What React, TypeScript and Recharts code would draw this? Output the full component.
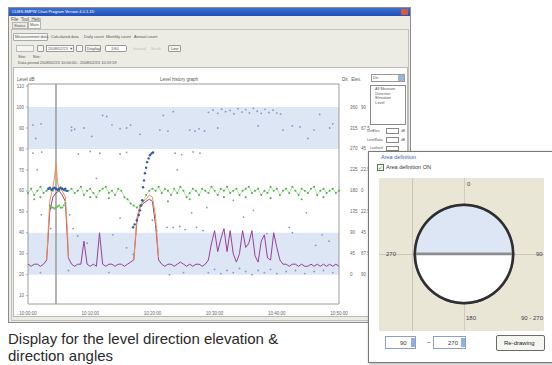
import React from 'react';
import {
  ComposedChart,
  Line,
  Scatter,
  XAxis,
  YAxis,
  ReferenceArea,
  ReferenceLine,
  PieChart,
  Pie,
  Cell,
} from 'recharts';

// time axis (0..100 = one hour)
const xTicks = [0, 20, 40, 60, 80, 100];
const xTickLabels = ['10:00:00', '10:10:00', '10:20:00', '10:30:00', '10:40:00', '10:50:00'];

// left axis: level dB
const levelTicks = [10, 20, 30, 40, 50, 60, 70, 80, 90, 100, 110];

// right axis: direction / elevation columns
const rightTicks = [100, 90, 80, 70, 60, 50, 40, 30, 20];
const dirLabels = ['360', '315', '270', '225', '180', '135', '90', '45', '0'];
const elevLabels = ['90', '67.5', '45', '22.5', '0', '22.5', '45', '67.5', '90'];

// shaded area bands (level units)
const bandRanges = [
  [80, 100],
  [20, 40],
];

// level trace, one value per time step
const levelValues = [
  25, 24, 25, 25, 24, 25, 27, 50, 57, 59, 60, 58, 55, 28, 25, 24, 25, 25, 36, 25,
  24, 25, 24, 40, 25, 24, 25, 25, 24, 25, 25, 24, 25, 26, 27, 45, 52, 54, 55, 56,
  55, 44, 27, 25, 24, 25, 25, 24, 25, 26, 25, 24, 25, 24, 25, 25, 24, 25, 27, 35,
  41, 31, 37, 42, 31, 41, 30, 26, 30, 41, 33, 35, 41, 29, 26, 36, 39, 28, 27, 40,
  33, 27, 25, 25, 24, 25, 25, 24, 25, 24, 24, 25, 24, 25, 24, 25, 24, 25, 24, 25,
  24,
];

// peak level (orange) during the two bursts
const peakPoints = [
  [6, 27], [7, 55], [8, 62], [8.5, 66], [9, 73], [9.5, 64], [10, 61], [11, 60], [12, 57], [12.7, 40], [13, 28],
  [13.5, null],
  [34, 27], [35, 47], [36, 53], [37, 55], [38, 56], [39, 58], [40, 57], [41, 48], [42, 28],
];

// elevation trace (green)
const greenTrace = [
  [0, 59], [1, 61], [2, 58], [3, 60], [4, 62], [5, 59], [6, 60], [7, 61], [8, 60], [9, 61], [10, 60],
  [11, 61], [12, 60], [13, 60], [14, 61], [15, 59], [16, 60], [17, 62], [18, 58], [19, 60], [20, 61],
  [21, 59], [22, 57], [23, 60], [24, 61], [25, 62], [26, 59], [27, 60], [28, 58], [29, 61], [30, 60],
  [31, 57], [32, 56], [33, 54], [34, 53], [35, 52], [36, 53], [37, 55], [38, 58], [39, 60], [40, 61],
  [41, 60], [42, 62], [43, 59], [44, 61], [45, 60], [46, 58], [47, 61], [48, 59], [49, 62], [50, 60],
  [51, 57], [52, 59], [53, 61], [54, 60], [55, 58], [56, 61], [57, 60], [58, 59], [59, 62], [60, 60],
  [61, 58], [62, 61], [63, 60], [64, 62], [65, 59], [66, 60], [67, 61], [68, 58], [69, 60], [70, 61],
  [71, 62], [72, 59], [73, 60], [74, 61], [75, 58], [76, 60], [77, 59], [78, 62], [79, 60], [80, 61],
  [81, 58], [82, 60], [83, 61], [84, 59], [85, 62], [86, 60], [87, 58], [88, 61], [89, 60], [90, 59],
  [91, 61], [92, 62], [93, 58], [94, 60], [95, 61], [96, 59], [97, 60], [98, 61], [99, 59], [100, 60],
];

// green outliers and the lower cluster under the first burst
const greenExtra = [
  [7, 53], [7.5, 52], [8, 52], [8.5, 51.5], [9, 52], [9.5, 52.5], [10, 53], [10.5, 52], [11, 52], [11.5, 53], [12, 54],
  [2, 56], [4, 57], [20, 57], [26, 56.5], [45, 55], [52, 56], [63, 57], [70, 57], [78, 56.5], [88, 56], [95, 57],
];

// direction points (dark blue)
const bluePoints = [
  [6.5, 61], [7, 61.5], [7.5, 60.5], [8, 61], [8.5, 61.5], [9, 61], [9.5, 60.5], [10, 61], [10.5, 61.5],
  [11, 61], [11.5, 60.5], [12, 61], [12.5, 60],
  [33.8, 42.6], [34.3, 44], [35, 46], [35.6, 48.5], [36, 50.7], [36.4, 53], [36.7, 55.5], [37, 61.7],
  [37.3, 65], [37.6, 68.4], [38, 71], [38.3, 73.7], [38.8, 75.5], [39.2, 77], [39.7, 77.8], [40.2, 78.3],
];

// scattered raw samples (grey blue)
const rawPoints = [
  [1.6, 91.4], [4.2, 92], [14, 90.4], [14, 88.8], [15, 89.4], [18, 90], [24, 96], [25.3, 95.5], [27, 91.5],
  [29.6, 89.7], [31.7, 90], [33, 91.4], [42.4, 89], [43.5, 96], [45, 88.5], [46.7, 97.8], [52, 89], [53.7, 88.5],
  [55, 89.6], [56.8, 88.6], [58, 97.5], [59.5, 98.6], [61, 97], [62.3, 99], [63.5, 97.8], [65, 98.4], [66.2, 96.8],
  [67.5, 99.2], [68.8, 97.6], [70, 98.8], [71.2, 97.2], [72.5, 99.4], [73.7, 98], [75, 97], [76.2, 98.9],
  [77.5, 97.4], [78.8, 98.5], [80, 97.1], [81.2, 96.6], [82, 89], [85, 91], [87.5, 90.5], [92, 89], [93.8, 96.5],
  [97, 90], [98, 92], [2.5, 85], [20.5, 86], [36, 87], [61, 90], [74, 91], [90, 85],
  [1.6, 78], [4.4, 78.5], [16.2, 77.5], [20, 78.8], [23.1, 78], [29.6, 77.6], [31.7, 78.4], [47.3, 78],
  [49.4, 77.3], [53.1, 78.6], [55.3, 78],
  [4.3, 48.6], [7.3, 42], [13.4, 48.6], [14.5, 42], [16, 38.5], [19, 35], [23, 36.7], [27.3, 39], [29.6, 47],
  [31.7, 32.8], [33.8, 29.7], [40, 46], [41.4, 41], [44.7, 42.6], [46.7, 42.6], [48.8, 43], [50.5, 41.5],
  [52.6, 49.5], [54.2, 42.6], [56.3, 41], [57.5, 52], [66, 55.5], [69.3, 47.5], [72.5, 50.7], [76.8, 39.6],
  [84, 42.6], [85, 40], [89.5, 49.5], [92.5, 34], [94.6, 39], [96.8, 36], [3, 70], [22, 66], [48, 70],
  [58, 21], [60, 22.5], [62, 20.5], [64, 22], [66, 21], [68, 23], [70, 21.5], [72, 20], [74, 22], [76, 21],
  [78, 22.5], [80, 20.5], [83, 21.5], [86, 22], [89, 20.5], [92, 21.5], [95, 22], [98, 21],
  [4, 21], [13, 22], [26, 21], [45.5, 20], [50, 21],
];

const toRows = (pairs: (number | null)[][]) => pairs.map(([x, v]) => ({ x, v }));
const levelData = levelValues.map((v, i) => ({ x: i, v }));

// area definition circle: selected 90-270 half, remaining half
const areaSlices = [
  { name: '90 - 270', value: 180 },
  { name: 'other', value: 180 },
];
const areaColors = ['#dce6f5', '#ffffff'];

const ui = 'Liberation Sans, Arial, sans-serif';

function RightTick(props: any) {
  const { x, y, payload } = props;
  const i = rightTicks.indexOf(payload.value);
  return (
    <g fontFamily={ui} fontSize={4.5} fill="#666">
      <text x={x + 3} y={y + 1.5}>{dirLabels[i]}</text>
      <text x={x + 14} y={y + 1.5}>{elevLabels[i]}</text>
    </g>
  );
}

const Dot = (color: string, r: number) => (p: any) =>
  p.cx == null ? null : <circle cx={p.cx} cy={p.cy} r={r} fill={color} />;

function T({ x, y, s = 4.5, c = '#555', children, w }: any) {
  return (
    <div
      style={{
        position: 'absolute',
        left: x,
        top: y,
        fontSize: s,
        color: c,
        fontFamily: ui,
        whiteSpace: 'nowrap',
        lineHeight: 1,
        width: w,
      }}
    >
      {children}
    </div>
  );
}

function Box({ x, y, w, h, bg = '#fff', b = '#9a9a9a', r = 0 }: any) {
  return (
    <div
      style={{
        position: 'absolute',
        left: x,
        top: y,
        width: w,
        height: h,
        background: bg,
        border: `1px solid ${b}`,
        borderRadius: r,
        boxSizing: 'border-box',
      }}
    />
  );
}

export default function App() {
  return (
    <div
      style={{
        position: 'absolute',
        left: 0,
        top: 0,
        width: 552,
        height: 365,
        overflow: 'hidden',
        background: '#fff',
      }}
    >
      {/* application window */}
      <Box x={8} y={7} w={403} h={316} bg="#ecebe4" b="#8c8c8c" />
      <div
        style={{
          position: 'absolute',
          left: 9,
          top: 8,
          width: 401,
          height: 8,
          background: 'linear-gradient(#3f6fd0, #2050b8)',
        }}
      />
      <T x={12} y={9.5} c="#fff" s={4}>CLMS-8MPW Chart Program Version 4.0.1.1D</T>
      <div style={{ position: 'absolute', left: 401, top: 9, width: 7, height: 6, background: '#d8593c', borderRadius: 1 }} />
      <T x={11} y={18}>File&nbsp;&nbsp;Tool&nbsp;&nbsp;Help</T>
      <Box x={12} y={22} w={16} h={7} bg="#ecebe4" b="#b5b5b5" />
      <T x={14} y={23.5} s={4}>Status</T>
      <Box x={28} y={21} w={13} h={8} bg="#f8f8f4" b="#b5b5b5" />
      <T x={30} y={23} s={4}>Main</T>
      <Box x={11} y={29} w={398} h={292} bg="#ecebe4" b="#c2c2c2" />

      {/* view buttons */}
      <Box x={13} y={33} w={35} h={8} bg="#f6f6f2" b="#aaa" r={1} />
      <T x={15} y={35} s={4}>Measurement data</T>
      <T x={51} y={35} s={4}>Calculated data</T>
      <T x={84} y={35} s={4}>Daily count</T>
      <T x={106} y={35} s={4}>Monthly count</T>
      <T x={134} y={35} s={4}>Annual count</T>

      {/* controls */}
      <Box x={16} y={45} w={18} h={7} bg="#f4f4f0" b="#bbb" />
      <Box x={37} y={45} w={7} h={7} bg="#f4f4f0" b="#999" r={1} />
      <Box x={46} y={45} w={28} h={7} bg="#fff" b="#999" />
      <T x={48} y={46.5} s={4}>2008/02/23 ▼</T>
      <Box x={76} y={45} w={7} h={7} bg="#f4f4f0" b="#999" r={1} />
      <Box x={85} y={45} w={16} h={7} bg="#f4f4f0" b="#999" r={1} />
      <T x={87} y={46.5} s={4}>Display</T>
      <Box x={105} y={45} w={22} h={7} bg="#fff" b="#999" r={2} />
      <T x={111} y={46.5} s={4}>1/60</T>
      <T x={133} y={46.5} s={4} c="#bbb">Interval</T>
      <T x={151} y={46.5} s={4} c="#bbb">Scale</T>
      <Box x={168} y={45} w={13} h={7} bg="#f4f4f0" b="#999" r={1} />
      <T x={171} y={46.5} s={4}>Line</T>
      <T x={18} y={55} s={4}>Site:&nbsp;&nbsp;&nbsp;&nbsp;&nbsp;&nbsp;Site:</T>
      <T x={18} y={61} s={4}>Data period 2008/02/23 10:00:00 - 2008/02/23 10:59:59</T>

      {/* chart panel */}
      <Box x={13} y={67} w={395} h={250} bg="#ffffff" b="#b8b8b8" />
      <T x={17} y={78} s={4.5}>Level dB</T>
      <T x={160} y={78} s={4.5}>Level history graph</T>
      <T x={342} y={78} s={4.5}>Dir.&nbsp;&nbsp;Elev.</T>

      <div style={{ position: 'absolute', left: 12, top: 70 }}>
        <ComposedChart width={362} height={246} margin={{ top: 14, right: 5, bottom: 2, left: 2 }}>
          <XAxis
            dataKey="x"
            type="number"
            domain={[0, 100]}
            ticks={xTicks}
            tickFormatter={(v: number) => xTickLabels[xTicks.indexOf(v)]}
            tick={{ fontSize: 4.5, fill: '#666', fontFamily: ui }}
            tickLine={false}
            axisLine={false}
            height={10}
            interval={0}
          />
          <YAxis
            yAxisId="left"
            type="number"
            domain={[6, 111]}
            allowDataOverflow
            ticks={levelTicks}
            tick={{ fontSize: 4.5, fill: '#666', fontFamily: ui }}
            tickSize={2}
            tickLine={{ stroke: '#aaa' }}
            axisLine={false}
            width={14}
            interval={0}
          />
          <YAxis
            yAxisId="right"
            orientation="right"
            type="number"
            domain={[6, 111]}
            allowDataOverflow
            ticks={rightTicks}
            tick={<RightTick />}
            tickLine={false}
            axisLine={false}
            width={30}
            interval={0}
          />
          {bandRanges.map(([lo, hi]) => (
            <ReferenceArea
              key={lo}
              yAxisId="left"
              x1={0}
              x2={100}
              y1={lo}
              y2={hi}
              fill="#dce6f5"
              fillOpacity={1}
              stroke="none"
            />
          ))}
          <ReferenceArea
            yAxisId="right"
            x1={0}
            x2={100}
            y1={6}
            y2={111}
            fill="none"
            stroke="#9c9c9c"
            strokeWidth={1}
          />
          <ReferenceLine yAxisId="left" x={9} stroke="#9a9a9a" strokeWidth={1.5} />
          <Scatter
            yAxisId="left"
            data={toRows(rawPoints)}
            dataKey="v"
            shape={Dot('#8596c8', 0.9)}
            isAnimationActive={false}
          />
          <Scatter
            yAxisId="left"
            data={toRows(greenExtra)}
            dataKey="v"
            shape={Dot('#5dbb55', 1.1)}
            isAnimationActive={false}
          />
          <Line
            yAxisId="left"
            data={toRows(greenTrace)}
            dataKey="v"
            type="linear"
            stroke="#8fd283"
            strokeWidth={0.7}
            dot={{ r: 1, fill: '#4fae48', stroke: 'none' }}
            isAnimationActive={false}
          />
          <Line
            yAxisId="left"
            data={levelData}
            dataKey="v"
            type="linear"
            stroke="#9a3f96"
            strokeWidth={1}
            dot={false}
            isAnimationActive={false}
          />
          <Line
            yAxisId="left"
            data={toRows(peakPoints)}
            dataKey="v"
            type="linear"
            stroke="#f0904a"
            strokeWidth={1}
            dot={false}
            connectNulls={false}
            isAnimationActive={false}
          />
          <Scatter
            yAxisId="left"
            data={toRows(bluePoints)}
            dataKey="v"
            shape={Dot('#3157ad', 1.2)}
            isAnimationActive={false}
          />
        </ComposedChart>
      </div>

      {/* legend / settings side panel */}
      <Box x={371} y={74} w={34} h={8} bg="#fff" b="#999" />
      <T x={373} y={76} s={4}>Dir.</T>
      <div style={{ position: 'absolute', left: 398, top: 75, width: 6, height: 6, background: '#9cb4e0' }} />
      <Box x={370} y={85} w={36} h={40} bg="#fff" b="#8a8a8a" />
      <T x={373} y={88} s={3.8}>· All Measure</T>
      <T x={373} y={92.5} s={3.8}>· Direction</T>
      <T x={373} y={97} s={3.8}>· Elevation</T>
      <T x={373} y={101.5} s={3.8}>· Level</T>
      <T x={367} y={130} s={3.3}>UnitElev.</T>
      <Box x={386} y={128} w={13} h={6} bg="#fff" b="#888" />
      <T x={401} y={130} s={3.3}>dB</T>
      <T x={367} y={139} s={3.3}>LevelRatio</T>
      <Box x={386} y={137} w={13} h={6} bg="#fff" b="#888" />
      <T x={401} y={139} s={3.3}>dB</T>
      <T x={370} y={147} s={3.3}>Lastlevel</T>
      <Box x={386} y={146} w={13} h={5} bg="#fff" b="#888" />
      <T x={17} y={314} s={4} c="#5070c0">*</T>

      {/* area definition dialog */}
      <div
        style={{
          position: 'absolute',
          left: 368,
          top: 151,
          width: 190,
          height: 210,
          background: '#fff',
          border: '1px solid #7a7a7a',
          boxShadow: '1px 1px 3px rgba(0,0,0,0.35)',
        }}
      />
      <T x={381} y={155} s={5.5} c="#3a66b8">Area definition</T>
      <Box x={377} y={164} w={7} h={7} bg="#fff" b="#4a7a4a" />
      <T x={378} y={164.5} s={6} c="#2b8a2b">✓</T>
      <T x={386} y={165} s={5.5} c="#333">Area definition ON</T>
      <div
        style={{
          position: 'absolute',
          left: 379,
          top: 178,
          width: 165,
          height: 153,
          background: '#e9e6d6',
        }}
      />
      <div style={{ position: 'absolute', left: 412, top: 178, width: 1, height: 153, background: '#c9c6b6' }} />
      <div style={{ position: 'absolute', left: 464, top: 178, width: 1, height: 153, background: '#cfccbd' }} />
      <div style={{ position: 'absolute', left: 379, top: 254, width: 165, height: 1, background: '#c9c6b6' }} />
      <div style={{ position: 'absolute', left: 409, top: 199 }}>
        <PieChart width={110} height={110} margin={{ top: 0, right: 0, bottom: 0, left: 0 }}>
          <Pie
            data={areaSlices}
            dataKey="value"
            cx={55}
            cy={55}
            innerRadius={0}
            outerRadius={49}
            startAngle={0}
            endAngle={360}
            stroke="#8c8c8c"
            strokeWidth={2.5}
            isAnimationActive={false}
          >
            {areaSlices.map((s, i) => (
              <Cell key={s.name} fill={areaColors[i]} />
            ))}
          </Pie>
          <Pie
            data={[{ name: 'rim', value: 1 }]}
            dataKey="value"
            cx={55}
            cy={55}
            innerRadius={48}
            outerRadius={50.5}
            startAngle={0}
            endAngle={360}
            fill="#2e2e2e"
            stroke="none"
            isAnimationActive={false}
          />
        </PieChart>
      </div>
      <T x={467} y={181} s={6} c="#444">0</T>
      <T x={386} y={251} s={6} c="#444">270</T>
      <T x={536} y={251} s={6} c="#444">90</T>
      <T x={466} y={315} s={6} c="#444">180</T>
      <T x={521} y={315} s={6} c="#444">90 - 270</T>

      <Box x={385} y={336} w={31} h={13} bg="#fff" b="#8aa0c8" />
      <T x={400} y={340} s={6} c="#333">90</T>
      <div style={{ position: 'absolute', left: 411, top: 338, width: 4, height: 9, background: '#8fb0e6' }} />
      <T x={427} y={339} s={6} c="#333">~</T>
      <Box x={433} y={336} w={33} h={13} bg="#fff" b="#8aa0c8" />
      <T x={448} y={340} s={6} c="#333">270</T>
      <div style={{ position: 'absolute', left: 461, top: 338, width: 4, height: 9, background: '#8fb0e6' }} />
      <Box x={496} y={335} w={49} h={16} bg="#f6f6f0" b="#6a6a6a" r={2} />
      <T x={504} y={340} s={6} c="#222">Re-drawing</T>

      {/* caption */}
      <T x={8} y={331} s={15} c="#2a2a2a">Display for the level direction elevation &amp;</T>
      <T x={8} y={348} s={15} c="#2a2a2a">direction angles</T>
    </div>
  );
}
